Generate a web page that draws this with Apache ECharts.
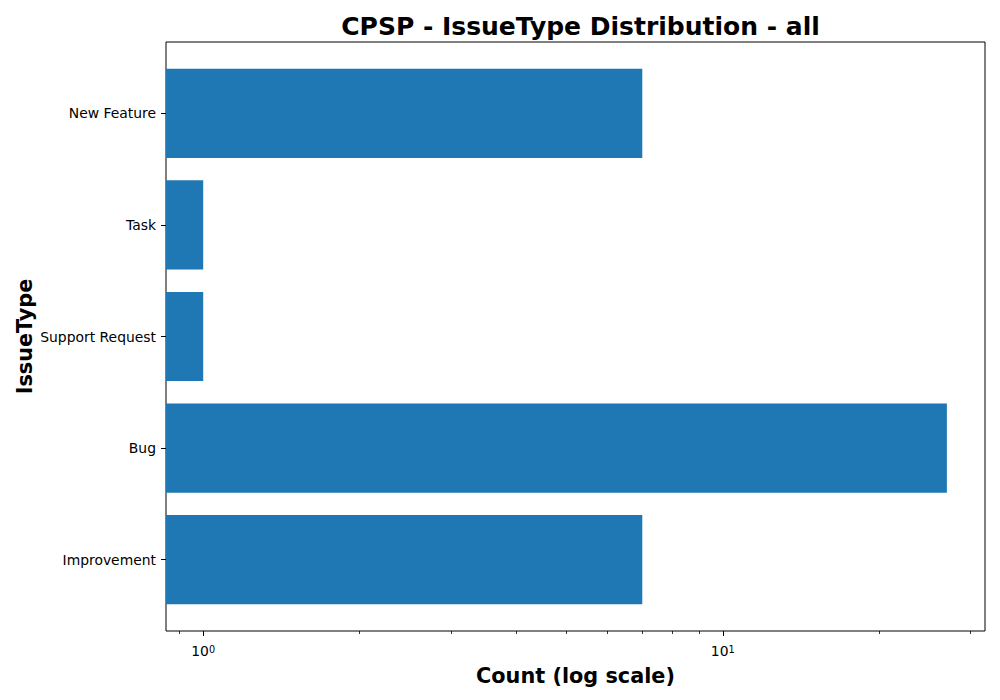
<!DOCTYPE html>
<html>
<head>
<meta charset="utf-8">
<script src="https://cdn.jsdelivr.net/npm/echarts@6/dist/echarts.min.js"></script>
<style>
  html, body { margin: 0; padding: 0; background: #fff; }
  #chart { width: 1000px; height: 700px; }
</style>
</head>
<body>
<div id="chart"></div>
<script>
  // data, bottom to top as ECharts stacks categories
  var categories = ['Improvement', 'Bug', 'Support Request', 'Task', 'New Feature'];
  var counts = [7, 27, 1, 1, 7];
  var majorTicks = [1, 10];
  var minorTicks = [0.9, 2, 3, 4, 5, 6, 7, 8, 9, 20, 30];
  var xMin = 0.848;
  var xMax = 31.97;

  var font = 'DejaVu Sans';
  var barColor = '#1f77b4';

  var chart = echarts.init(document.getElementById('chart'), null, { renderer: 'svg' });

  chart.setOption({
    animation: false,
    textStyle: { fontFamily: font, color: '#000' },
    title: {
      text: 'CPSP - IssueType Distribution - all',
      left: 575.5,
      top: 9,
      textAlign: 'center',
      textStyle: { fontFamily: font, fontSize: 25, fontWeight: 'bold', color: '#000' }
    },
    grid: [
      // frame of the axes
      { left: 166, right: 15, top: 42, bottom: 69, show: true, borderColor: '#000', borderWidth: 1, backgroundColor: 'transparent', containLabel: false },
      // bar area (category bands inside the margins)
      { left: 166, right: 15, top: 57.6, bottom: 84.6, containLabel: false }
    ],
    xAxis: [
      {
        gridIndex: 0,
        type: 'log',
        position: 'bottom',
        min: xMin,
        max: xMax,
        name: 'Count (log scale)',
        nameLocation: 'middle',
        nameGap: 34,
        nameTextStyle: { fontFamily: font, fontSize: 20.8, fontWeight: 'bold', color: '#000' },
        axisLine: { show: false },
        splitLine: { show: false },
        minorTick: { show: false },
        axisTick: { show: true, customValues: majorTicks, length: 5, lineStyle: { color: '#000', width: 1 } },
        axisLabel: {
          customValues: majorTicks,
          margin: 13,
          color: '#000',
          formatter: function (v) {
            return '{b|10}{s|' + Math.round(Math.log10(v)) + '}';
          },
          rich: {
            b: { fontFamily: font, fontSize: 13.9, color: '#000' },
            s: { fontFamily: font, fontSize: 9.7, color: '#000', verticalAlign: 'top' }
          }
        }
      },
      {
        gridIndex: 0,
        type: 'log',
        position: 'bottom',
        min: xMin,
        max: xMax,
        axisLine: { show: false },
        splitLine: { show: false },
        axisLabel: { show: false },
        axisTick: { show: true, customValues: minorTicks, length: 3, lineStyle: { color: '#000', width: 0.8 } }
      },
      {
        gridIndex: 1,
        type: 'log',
        min: xMin,
        max: xMax,
        show: false
      }
    ],
    yAxis: [
      { gridIndex: 0, type: 'value', show: false },
      {
        gridIndex: 1,
        type: 'category',
        data: categories,
        name: 'IssueType',
        nameLocation: 'middle',
        nameGap: 131,
        nameMoveOverlap: false,
        nameTextStyle: { fontFamily: font, fontSize: 20.8, fontWeight: 'bold', color: '#000' },
        axisLine: { show: false },
        axisTick: { show: true, alignWithLabel: true, length: 5, lineStyle: { color: '#000', width: 1 } },
        axisLabel: { fontFamily: font, fontSize: 13.9, color: '#000', margin: 10 },
        splitLine: { show: false }
      }
    ],
    series: [{
      type: 'custom',
      xAxisIndex: 2,
      yAxisIndex: 1,
      encode: { x: 0, y: 1 },
      data: counts.map(function (c, i) { return [c, i]; }),
      renderItem: function (params, api) {
        var end = api.coord([api.value(0), api.value(1)]);
        var start = api.coord([xMin, api.value(1)]);
        var h = api.size([1, 1])[1] * 0.8;
        return {
          type: 'rect',
          shape: { x: start[0], y: end[1] - h / 2, width: end[0] - start[0], height: h },
          style: { fill: barColor }
        };
      }
    }]
  });
</script>
</body>
</html>
